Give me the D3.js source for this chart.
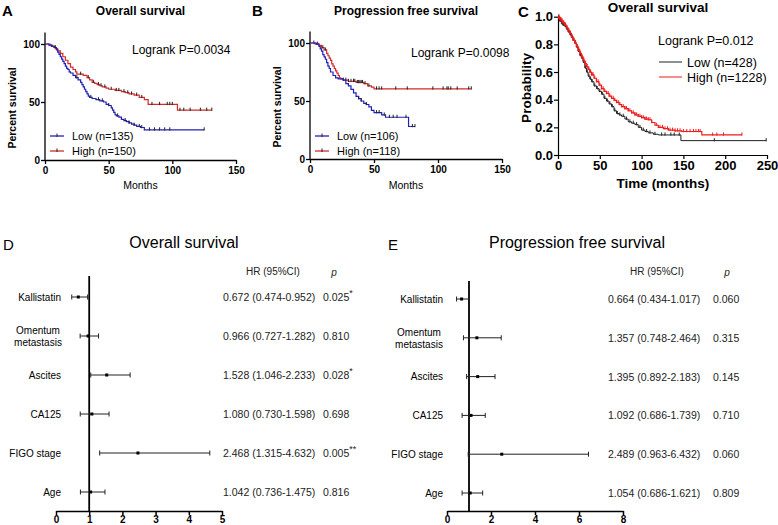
<!DOCTYPE html>
<html><head><meta charset="utf-8">
<script src="https://cdn.jsdelivr.net/npm/d3@7"></script>
<style>body{margin:0;background:#fff}svg{display:block;font-family:Arial,"Liberation Sans",sans-serif}</style>
</head><body><svg id="c" width="778" height="525"></svg>
<script>
// ---------- Panel A data (Overall survival, %) ----------
const A_low_t = [0,3,5,7,9,10,11,12,13,14,15,16,17,18,19,20,22,24,26,28,29,30,31,32,33,34,35,37,40,43,46,48,50,52,53,54,55,56,58,60,62,64,66,68,70,72,75,78];
const A_low_s = [100,99,98,97,95,93,91,89,87,85,83,81,79,78,76,75,73,71,69,67,65,63,61,59,57,55,54,53,52,51,50,48,47,45,43,41,39,38,37,35,34,33,32,31,30,29,28,26];
const A_low_end = 125;
const A_low_cens = [8,25,36,42,45,50,57,63,66,70,74,76,82,86,90,94,98,125];
const A_high_t = [0,4,6,8,10,12,14,16,18,20,22,24,25,30,33,35,37,39,41,43,45,48,50,55,60,63,66,70,74,78,81,104];
const A_high_s = [100,99,98,96,94,92,89,86,83,80,78,76,74,73,71,69,67,66,65,64,63,62,61,60,59,58,57,56,54,52,48,43];
const A_high_end = 131;
const A_high_cens = [28,34,38,42,44,47,52,56,58,62,65,68,72,76,84,90,96,98,100,106,109,114,122,127,131];

// ---------- Panel B data (Progression free survival, %) ----------
const B_low_t = [0,5,7,8,9,10,11,12,13,14,15,16,18,20,22,26,28,30,32,34,36,38,40,42,44,46,48,50,56,59,77];
const B_low_s = [100,99,97,95,93,90,88,86,83,80,78,75,72,70,69,68,65,63,60,57,54,52,50,48,47,45,42,40,38,36,28];
const B_low_end = 82;
const B_low_cens = [38,40,44,52,54,58,62,65,68,75,80,82];
const B_high_t = [0,4,7,9,11,13,14,15,16,17,18,19,20,21,22,23,24,26,30,36,42,45,48,50];
const B_high_s = [100,99,98,96,94,91,89,87,85,82,80,78,76,74,72,70,69,68,67,66,65,63,62,60.5];
const B_high_end = 126;
const B_high_cens = [3,6,10,12,26,28,30,32,34,35,37,38,39,40,41,43,46,52,54,56,67,76,96,104,107,108,110,115,124,126];

// ---------- Panel C data (Overall survival, probability) ----------
const C_low_t = [0,2,4,6,8,10,12,14,16,18,20,22,24,26,28,30,32,34,36,38,40,43,46,49,52,55,58,61,64,67,70,73,76,80,84,88,92,96,100,104,108,114,120,147];
const C_low_s = [1.0,0.97,0.95,0.94,0.93,0.91,0.89,0.87,0.85,0.83,0.81,0.78,0.75,0.72,0.70,0.67,0.63,0.60,0.57,0.55,0.53,0.50,0.48,0.46,0.44,0.41,0.39,0.37,0.35,0.32,0.30,0.29,0.28,0.26,0.24,0.23,0.22,0.20,0.18,0.17,0.16,0.15,0.145,0.104];
const C_low_end = 249;
const C_low_cens = [1,2,3,5,6,7,9,11,13,15,17,19,21,23,25,27,29,31,33,35,37,39,41,44,47,50,53,56,59,62,65,68,71,74,78,82,86,90,94,98,102,106,110,116,124,128,135,139,145,187,249];
const C_high_t = [0,2,4,6,8,10,12,14,16,18,20,22,24,26,28,30,32,34,36,38,40,43,46,49,52,55,58,61,64,67,70,73,76,80,84,88,92,96,100,104,108,112,116,120,126,132,140,148,172];
const C_high_s = [0.99,0.98,0.97,0.955,0.94,0.92,0.90,0.88,0.855,0.83,0.81,0.785,0.76,0.735,0.71,0.685,0.66,0.64,0.62,0.60,0.58,0.555,0.53,0.505,0.48,0.46,0.445,0.425,0.41,0.395,0.38,0.365,0.35,0.335,0.32,0.305,0.29,0.28,0.27,0.26,0.255,0.235,0.215,0.20,0.19,0.18,0.175,0.17,0.145];
const C_high_end = 220;
const C_high_cens = [0.5,1,1.5,2,2.5,3,3.5,4,5,6,7,8,9,10,11,12,13,14,15,16,17,18,19,20,21,22,23,24,25,26,27,28,29,30,31,32,33,34,35,36,37,38,39,40,41,42,44,46,48,50,52,54,56,58,60,62,64,66,68,70,72,74,76,78,80,82,84,86,88,90,92,94,96,98,100,102,104,106,108,110,112,118,122,125,128,131,134,137,140,143,146,150,154,158,162,165,168,170,185,190,198,220];

// ---------- Forest plot data ----------
const factors = ["Kallistatin","Omentum metastasis","Ascites","CA125","FIGO stage","Age"];
const D_hr = [0.672,0.966,1.528,1.080,2.468,1.042];
const D_lo = [0.474,0.727,1.046,0.730,1.315,0.736];
const D_hi = [0.952,1.282,2.233,1.598,4.632,1.475];
const D_p = ["0.025","0.810","0.028","0.698","0.005","0.816"];
const D_star = ["*","","*","","**",""];
const D_ticks = [0,1,2,3,4,5];
const E_hr = [0.664,1.357,1.395,1.092,2.489,1.054];
const E_lo = [0.434,0.748,0.892,0.686,0.963,0.686];
const E_hi = [1.017,2.464,2.183,1.739,6.432,1.621];
const E_p = ["0.060","0.315","0.145","0.710","0.060","0.809"];
const E_star = ["","","","","",""];
const E_ticks = [0,2,4,6,8];

const svg = d3.select("#c");
const fam = 'Arial,"Liberation Sans",sans-serif';

function stepVal(ts, ss, c){ let v = ss[0]; for(let i=0;i<ts.length;i++){ if(ts[i]<=c) v=ss[i]; } return v; }

function kmCurve(g, x, y, ts, ss, end, cens, color, censColor, lw, ch){
  const pts = ts.map((t,i)=>[t,ss[i]]); pts.push([end, ss[ss.length-1]]);
  g.append("path").attr("d", d3.line().x(d=>x(d[0])).y(d=>y(d[1])).curve(d3.curveStepAfter)(pts))
    .attr("fill","none").attr("stroke",color).attr("stroke-width",lw);
  g.selectAll(null).data(cens).join("line")
    .attr("x1",c=>x(c)).attr("x2",c=>x(c))
    .attr("y1",c=>y(stepVal(ts,ss,c))-ch).attr("y2",c=>y(stepVal(ts,ss,c))+ch*0.3)
    .attr("stroke",censColor).attr("stroke-width",1);
}

// ----- Prism-style KM panel -----
function prismPanel(o){
  const g = svg.append("g");
  const x = d3.scaleLinear().domain([0,150]).range([o.x0,o.x1]);
  const y = d3.scaleLinear().domain([0,100]).range([o.y0,o.y1]);
  const ya = g.append("g").attr("transform",`translate(${o.x0},0)`)
    .call(d3.axisLeft(y).tickValues([0,50,100]).tickSize(4).tickSizeOuter(0));
  ya.select(".domain").attr("d",`M0,${y(0)}V${y(110)}`).attr("stroke-width",1.3);
  const xa = g.append("g").attr("transform",`translate(0,${o.y0})`)
    .call(d3.axisBottom(x).tickValues([0,50,100,150]).tickSize(4).tickSizeOuter(0));
  xa.select(".domain").attr("stroke-width",1.3);
  [ya,xa].forEach(a=>{a.selectAll("line").attr("stroke-width",1.3);
    a.selectAll("text").attr("font-family",fam).attr("font-weight","bold").attr("font-size",10).attr("fill","#000");});
  ya.selectAll("text").attr("x",-5);
  kmCurve(g,x,y,o.hi_t,o.hi_s,o.hi_end,o.hi_c,"#d42a2a","#222",1.2,2.5);
  kmCurve(g,x,y,o.lo_t,o.lo_s,o.lo_end,o.lo_c,"#2121b8","#222",1.2,2.5);
  g.append("text").attr("x",o.lx).attr("y",16).text(o.letter).attr("font-weight","bold").attr("font-size",15);
  g.append("text").attr("x",(o.x0+o.x1)/2).attr("y",15).attr("text-anchor","middle").text(o.title)
    .attr("font-weight","bold").attr("font-size",12);
  g.append("text").attr("transform",`translate(${o.x0-29},${(o.y0+o.y1)/2+6}) rotate(-90)`).attr("text-anchor","middle")
    .text("Percent survival").attr("font-weight","bold").attr("font-size",10.5);
  g.append("text").attr("x",(o.x0+o.x1)/2).attr("y",189).attr("text-anchor","middle").text("Months").attr("font-size",10.5);
  g.append("text").attr("x",o.lrx).attr("y",o.lry).text(o.logrank).attr("font-size",12);
  const leg = [[o.lowLab,"#2121b8",136],[o.highLab,"#d42a2a",151]];
  leg.forEach(([t,c,yy])=>{
    g.append("line").attr("x1",o.x0+5).attr("x2",o.x0+19).attr("y1",yy).attr("y2",yy).attr("stroke",c).attr("stroke-width",1.3);
    g.append("line").attr("x1",o.x0+12).attr("x2",o.x0+12).attr("y1",yy-2.5).attr("y2",yy+1).attr("stroke","#222");
    g.append("text").attr("x",o.x0+27).attr("y",yy+4).text(t).attr("font-size",11);
  });
}

prismPanel({x0:45,x1:236,y0:160,y1:44,letter:"A",lx:2,title:"Overall survival",
  lo_t:A_low_t,lo_s:A_low_s,lo_end:A_low_end,lo_c:A_low_cens,
  hi_t:A_high_t,hi_s:A_high_s,hi_end:A_high_end,hi_c:A_high_cens,
  logrank:"Logrank P=0.0034",lrx:132,lry:54,lowLab:"Low (n=135)",highLab:"High (n=150)"});
prismPanel({x0:310,x1:502,y0:159,y1:43,letter:"B",lx:252,title:"Progression free survival",
  lo_t:B_low_t,lo_s:B_low_s,lo_end:B_low_end,lo_c:B_low_cens,
  hi_t:B_high_t,hi_s:B_high_s,hi_end:B_high_end,hi_c:B_high_cens,
  logrank:"Logrank P=0.0098",lrx:411,lry:57,lowLab:"Low (n=106)",highLab:"High (n=118)"});

// ----- Panel C (R-style) -----
(function(){
  const g = svg.append("g");
  const x = d3.scaleLinear().domain([0,250]).range([558,767]);
  const y = d3.scaleLinear().domain([0,1]).range([155,16.7]);
  const ya = g.append("g").attr("transform","translate(558,0)")
    .call(d3.axisLeft(y).tickValues([0,0.2,0.4,0.6,0.8,1.0]).tickFormat(d3.format(".1f")).tickSize(4).tickSizeOuter(0));
  const xa = g.append("g").attr("transform","translate(0,155)")
    .call(d3.axisBottom(x).tickValues([0,50,100,150,200,250]).tickSize(4).tickSizeOuter(0));
  [ya,xa].forEach(a=>{a.selectAll("line").attr("stroke-width",1.2);a.select(".domain").attr("stroke-width",1.2);
    a.selectAll("text").attr("font-family",fam).attr("font-weight","bold").attr("font-size",13).attr("fill","#000");});
  ya.selectAll("text").attr("x",-5);
  xa.selectAll("text").attr("y",6);
  kmCurve(g,x,y,C_low_t,C_low_s,C_low_end,C_low_cens,"#222","#222",1,2.5);
  kmCurve(g,x,y,C_high_t,C_high_s,C_high_end,C_high_cens,"#ee1c1c","#ee1c1c",1.2,2.5);
  g.append("text").attr("x",518).attr("y",17).text("C").attr("font-weight","bold").attr("font-size",15);
  g.append("text").attr("x",658).attr("y",12).attr("text-anchor","middle").text("Overall survival")
    .attr("font-weight","bold").attr("font-size",13.5);
  g.append("text").attr("transform","translate(531,88) rotate(-90)").attr("text-anchor","middle")
    .text("Probability").attr("font-weight","bold").attr("font-size",13.5);
  g.append("text").attr("x",663).attr("y",188).attr("text-anchor","middle").text("Time (months)")
    .attr("font-weight","bold").attr("font-size",13.5);
  g.append("text").attr("x",658).attr("y",45).text("Logrank P=0.012").attr("font-size",12.5);
  [["Low (n=428)","#222",62],["High (n=1228)","#ee1c1c",77]].forEach(([t,c,yy])=>{
    g.append("line").attr("x1",659).attr("x2",682).attr("y1",yy).attr("y2",yy).attr("stroke",c).attr("stroke-width",1);
    g.append("text").attr("x",687).attr("y",yy+4.5).text(t).attr("font-size",12.5);
  });
})();

// ----- Forest plots -----
function forest(o){
  const g = svg.append("g");
  const x = d3.scaleLinear().domain([0,o.ticks[o.ticks.length-1]]).range([o.x0,o.x1]);
  const y = d3.scalePoint().domain(factors).range([o.yTop,o.yBot]);
  g.append("text").attr("x",o.lx).attr("y",250).text(o.letter).attr("font-size",15);
  g.append("text").attr("x",o.tx).attr("y",248).attr("text-anchor","middle").text(o.title).attr("font-size",16);
  const xa = g.append("g").attr("transform",`translate(0,${o.axisY})`)
    .call(d3.axisBottom(x).tickValues(o.ticks).tickFormat(d3.format("d")).tickSize(4).tickSizeOuter(0));
  xa.select(".domain").attr("stroke-width",1.5);
  xa.selectAll("line").attr("stroke-width",1.5);
  xa.selectAll("text").attr("font-family",fam).attr("font-weight","bold").attr("font-size",10).attr("fill","#000").attr("y",5);
  g.append("line").attr("x1",x(1)).attr("x2",x(1)).attr("y1",o.refTop).attr("y2",o.axisY).attr("stroke","#000").attr("stroke-width",1.8);
  factors.forEach((f,i)=>{
    const yy = y(f);
    g.append("line").attr("x1",x(o.lo[i])).attr("x2",x(o.hi[i])).attr("y1",yy).attr("y2",yy).attr("stroke","#222").attr("stroke-width",1);
    [o.lo[i],o.hi[i]].forEach(v=>g.append("line").attr("x1",x(v)).attr("x2",x(v)).attr("y1",yy-2.5).attr("y2",yy+2.5).attr("stroke","#222"));
    g.append("rect").attr("x",x(o.hr[i])-1.5).attr("y",yy-1.5).attr("width",3).attr("height",3).attr("fill","#000");
    if(f==="Omentum metastasis"){
      g.append("text").attr("x",o.omx).attr("y",yy-2).attr("text-anchor","middle").text("Omentum").attr("font-size",10);
      g.append("text").attr("x",o.omx).attr("y",yy+10).attr("text-anchor","middle").text("metastasis").attr("font-size",10);
    } else {
      g.append("text").attr("x",o.labX).attr("y",yy+3.5).attr("text-anchor","end").text(f).attr("font-size",10);
    }
    g.append("text").attr("x",o.hrX).attr("y",yy+4).text(`${o.hr[i].toFixed(3)} (${o.lo[i].toFixed(3)}-${o.hi[i].toFixed(3)})`).attr("font-size",10.5).attr("fill","#222");
    const pt = g.append("text").attr("x",o.pX).attr("y",yy+4).attr("font-size",10.5).attr("fill","#222");
    pt.append("tspan").text(o.p[i]);
    if(o.star[i]) pt.append("tspan").attr("dy",-5).attr("font-size",9).text(o.star[i]);
  });
  g.append("text").attr("x",o.hdrX).attr("y",275).attr("text-anchor","middle").text("HR (95%CI)").attr("font-size",10).attr("fill","#222");
  g.append("text").attr("x",o.pHdrX).attr("y",276).attr("text-anchor","middle").text("p").attr("font-style","italic").attr("font-size",10).attr("fill","#222");
}
forest({x0:56,x1:222,ticks:D_ticks,yTop:297,yBot:492,axisY:511,refTop:276,letter:"D",lx:3,tx:184,title:"Overall survival",
  hr:D_hr,lo:D_lo,hi:D_hi,p:D_p,star:D_star,labX:61,omx:38,hrX:223,pX:323,hdrX:273,pHdrX:334});
forest({x0:447,x1:623,ticks:E_ticks,yTop:299,yBot:493,axisY:511,refTop:281,letter:"E",lx:388,tx:577,title:"Progression free survival",
  hr:E_hr,lo:E_lo,hi:E_hi,p:E_p,star:E_star,labX:443,omx:419,hrX:608,pX:713,hdrX:657,pHdrX:727});
</script></body></html>
